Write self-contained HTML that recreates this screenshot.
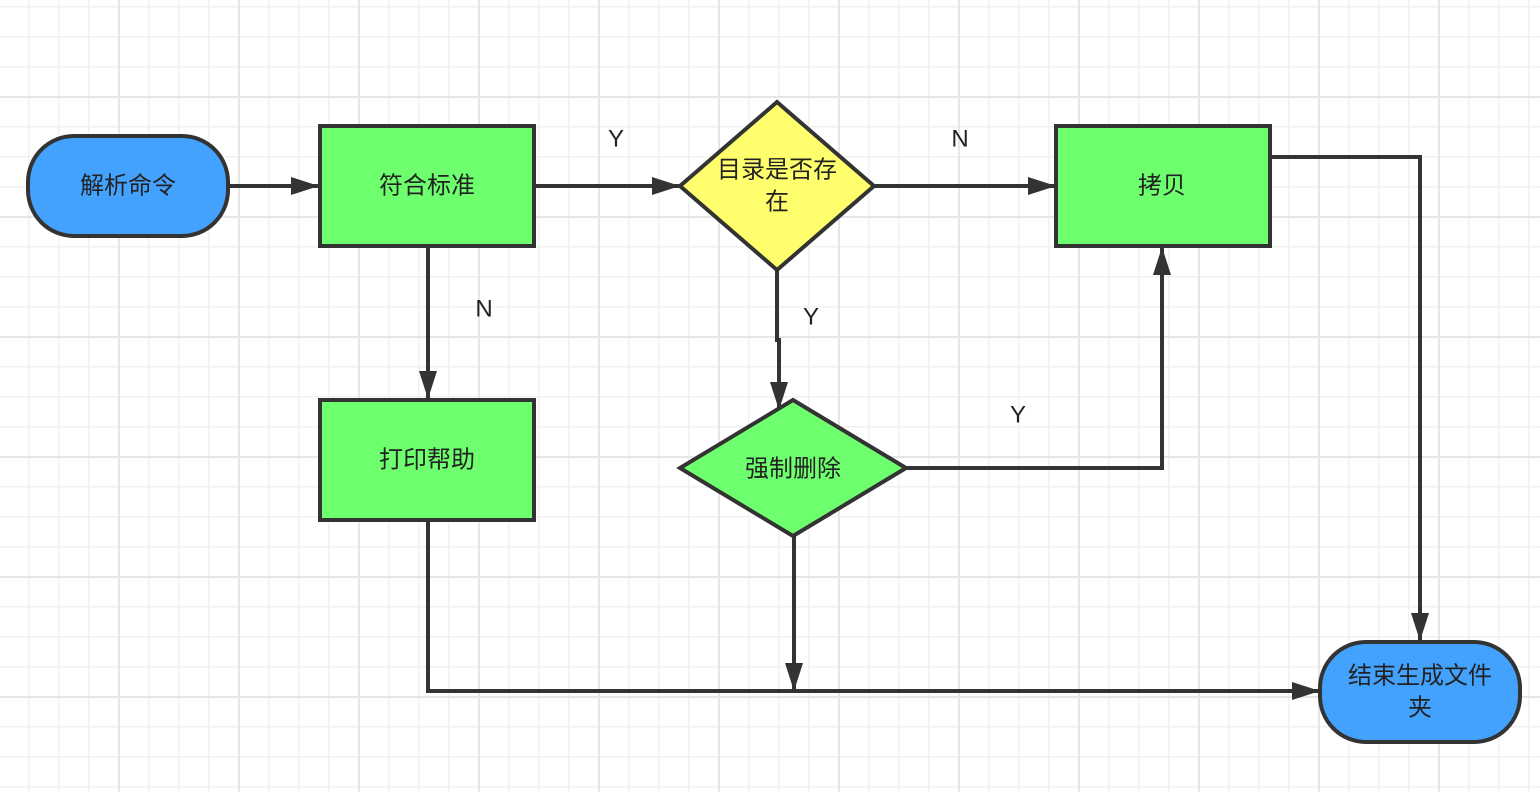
<!DOCTYPE html>
<html><head><meta charset="utf-8"><style>
html,body{margin:0;padding:0}
body{width:1540px;height:792px;overflow:hidden;background-color:#fff;
background-image:
linear-gradient(to right,#e6e6e6 2px,transparent 2px),
linear-gradient(to bottom,#e6e6e6 2px,transparent 2px),
linear-gradient(to right,#f1f1f1 1.5px,transparent 1.5px),
linear-gradient(to bottom,#f1f1f1 1.5px,transparent 1.5px);
background-size:120px 120px,120px 120px,30px 30px,30px 30px;
background-position:118px 96px,118px 96px,28px 6px,28px 6px;}
svg{position:absolute;left:0;top:0}
text{font-family:"Liberation Sans","Noto Sans CJK SC",sans-serif;font-size:24px;fill:#222;text-anchor:middle;dominant-baseline:central}
</style></head><body>
<svg width="1540" height="792" viewBox="0 0 1540 792">
<defs><marker id="a" markerWidth="10" markerHeight="10" refX="9" refY="5" orient="auto" markerUnits="userSpaceOnUse" viewBox="0 0 10 10"><path d="M0,0 L10,5 L0,10Z" fill="#333"/></marker>
<marker id="b" markerWidth="28" markerHeight="18" refX="27" refY="9" orient="auto" markerUnits="userSpaceOnUse" viewBox="0 0 28 18"><path d="M0,0 L28,9 L0,18Z" fill="#333"/></marker></defs>
<g stroke="#333" stroke-width="4" fill="none">
<path d="M229,186 H318" marker-end="url(#b)"/>
<path d="M535,186 H679" marker-end="url(#b)"/>
<path d="M874,186 H1055" marker-end="url(#b)"/>
<path d="M428,246 V398" marker-end="url(#b)"/>
<path d="M777,270 V340 H779 V409" marker-end="url(#b)"/>
<path d="M906,468 H1162 V248" marker-end="url(#b)"/>
<path d="M1271,157 H1420 V640" marker-end="url(#b)"/>
<path d="M794,536 V690" marker-end="url(#b)"/>
<path d="M428,520 V691 H1319" marker-end="url(#b)"/>
</g>
<g stroke="#333" stroke-width="4">
<rect x="28" y="136" width="200" height="100" rx="46" fill="#44a2ff"/>
<rect x="320" y="126" width="214" height="120" fill="#6dff6d"/>
<rect x="320" y="400" width="214" height="120" fill="#6dff6d"/>
<rect x="1056" y="126" width="214" height="120" fill="#6dff6d"/>
<path d="M777,102 L874,186 L777,270 L680,186Z" fill="#ffff6d"/>
<path d="M793,400 L906,468 L793,536 L680,468Z" fill="#6dff6d"/>
<rect x="1320" y="642" width="200" height="100" rx="46" fill="#44a2ff"/>
</g>
<text x="128" y="186">解析命令</text>
<text x="427" y="186">符合标准</text>
<text x="427" y="460">打印帮助</text>
<text x="1162" y="186">拷贝</text>
<text x="777" y="170">目录是否存</text>
<text x="777" y="202">在</text>
<text x="793" y="469">强制删除</text>
<text x="1420" y="676">结束生成文件</text>
<text x="1420" y="708">夹</text>
<text x="616" y="139">Y</text>
<text x="960" y="139">N</text>
<text x="484" y="309">N</text>
<text x="811" y="317">Y</text>
<text x="1018" y="415">Y</text>
</svg>
</body></html>
